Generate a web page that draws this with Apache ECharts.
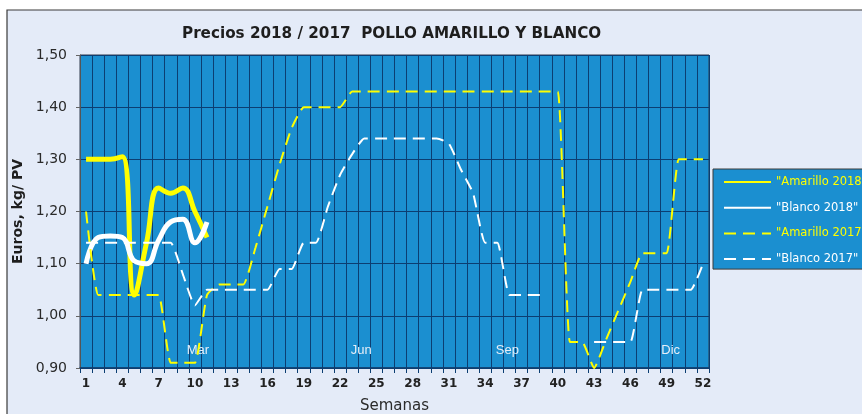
<!DOCTYPE html>
<html>
<head>
<meta charset="utf-8">
<script src="https://cdn.jsdelivr.net/npm/echarts@6/dist/echarts.min.js"></script>
<style>
  html, body { margin: 0; padding: 0; background: #ffffff; }
  #chart { width: 862px; height: 414px; }
</style>
</head>
<body>
<div id="chart"></div>
<script>
// semanas 1..52
const weeks = Array.from({ length: 52 }, (_, i) => String(i + 1));

// 2018, solo hasta la semana 11
const amarillo2018 = [1.30, 1.30, 1.30, 1.305, 1.04, 1.14, 1.245, 1.235, 1.245, 1.20, 1.15];
const blanco2018 = [1.10, 1.15, 1.153, 1.15, 1.105, 1.10, 1.145, 1.18, 1.185, 1.14, 1.18];

const amarillo2017 = [
  1.20, 1.04, 1.04, 1.04, 1.04, 1.04, 1.04, 0.91, 0.91, 0.91,
  1.04, 1.06, 1.06, 1.06, 1.13, 1.21, 1.29, 1.36, 1.40, 1.40,
  1.40, 1.40, 1.43, 1.43, 1.43, 1.43, 1.43, 1.43, 1.43, 1.43,
  1.43, 1.43, 1.43, 1.43, 1.43, 1.43, 1.43, 1.43, 1.43, 1.43,
  0.95, 0.95, 0.90, 0.955, 1.01, 1.065, 1.12, 1.12, 1.12, 1.30,
  1.30, 1.30
];
const blanco2017 = [
  1.14, 1.14, 1.14, 1.14, 1.14, 1.14, 1.14, 1.14, 1.08, 1.02,
  1.05, 1.05, 1.05, 1.05, 1.05, 1.05, 1.09, 1.09, 1.14, 1.14,
  1.21, 1.27, 1.31, 1.34, 1.34, 1.34, 1.34, 1.34, 1.34, 1.34,
  1.33, 1.28, 1.235, 1.14, 1.14, 1.04, 1.04, 1.04, 1.04, null,
  null, null, 0.95, 0.95, 0.95, 0.95, 1.05, 1.05, 1.05, 1.05,
  1.05, 1.10
];

// etiquetas de mes dentro del grafico
const monthNames = ['Mar', 'Jun', 'Sep', 'Dic'];
const monthWeeks = ['10', '24', '36', '49'];
const monthOffsets = [3, -3, -2, 4];

const NAVY = '#0c3e72';
const FONT = 'DejaVu Sans, Verdana, sans-serif';

let chart = echarts.init(document.getElementById('chart'), null, { renderer: 'canvas' });

let option = {
  animation: false,
  backgroundColor: '#ffffff',
  graphic: [{
    type: 'rect',
    z: -10,
    shape: { x: 7, y: 10, width: 900, height: 450 },
    style: { fill: '#e4ebf8', stroke: '#3a3a3a', lineWidth: 1.2 }
  }],
  title: {
    text: 'Precios 2018 / 2017  POLLO AMARILLO Y BLANCO',
    left: 177,
    top: 22,
    textStyle: { fontFamily: FONT, fontSize: 15.2, fontWeight: 'bold', color: '#1e1e1e' }
  },
  legend: {
    orient: 'vertical',
    left: 713,
    top: 169,
    padding: [7, 60, 4, 10],
    backgroundColor: '#1b8fd0',
    borderColor: '#3a3a3a',
    borderWidth: 1,
    itemWidth: 47,
    itemHeight: 14,
    itemGap: 13.7,
    // solo la linea, sin simbolo
    itemStyle: { color: 'transparent', borderColor: 'transparent', borderWidth: 0 },
    textStyle: { fontFamily: FONT, fontSize: 11.5 },
    data: [
      { name: '"Amarillo 2018"', textStyle: { color: '#ffff00' } },
      { name: '"Blanco 2018"', textStyle: { color: '#ffffff' } },
      { name: '"Amarillo 2017"', textStyle: { color: '#ffff00' } },
      { name: '"Blanco 2017"', textStyle: { color: '#ffffff' } }
    ]
  },
  grid: {
    left: 80,
    right: 153,
    top: 55,
    bottom: 46,
    outerBoundsMode: 'none',
    show: true,
    backgroundColor: '#1b8fd0',
    borderColor: '#2e3a4e',
    borderWidth: 1
  },
  xAxis: {
    type: 'category',
    data: weeks,
    boundaryGap: true,
    name: 'Semanas',
    nameLocation: 'middle',
    nameGap: 31,
    nameTextStyle: { fontFamily: FONT, fontSize: 15, color: '#2a2a2a' },
    axisLine: { lineStyle: { color: NAVY, width: 1.5 } },
    axisTick: { show: true, interval: 0, alignWithLabel: false, length: 5, lineStyle: { color: NAVY } },
    axisLabel: {
      interval: function(i) { return i % 3 === 0; },
      margin: 10,
      fontFamily: FONT,
      fontSize: 12,
      fontWeight: 'bold',
      color: '#222222'
    },
    splitLine: { show: true, interval: 0, lineStyle: { color: NAVY, width: 1 } }
  },
  yAxis: {
    type: 'value',
    min: 0.9,
    max: 1.5,
    interval: 0.1,
    name: 'Euros, kg/ PV',
    nameLocation: 'middle',
    nameGap: 55,
    nameRotate: 90,
    nameTextStyle: { fontFamily: FONT, fontSize: 14, fontWeight: 'bold', color: '#1e1e1e' },
    axisLine: { show: true, lineStyle: { color: '#555555' } },
    axisTick: { show: true, length: 4, lineStyle: { color: '#666666' } },
    axisLabel: {
      margin: 13,
      fontFamily: FONT,
      fontSize: 14,
      color: '#2a2a2a',
      formatter: function(v) { return v.toFixed(2).replace('.', ','); }
    },
    splitLine: { show: true, lineStyle: { color: NAVY, width: 1 } }
  },
  series: [{
    name: '"Amarillo 2018"',
    type: 'line',
    data: amarillo2018,
    symbol: 'none',
    smooth: 0.45,
    color: '#ffff00',
    lineStyle: { color: '#ffff00', width: 5 },
    z: 3
  }, {
    name: '"Blanco 2018"',
    type: 'line',
    data: blanco2018,
    symbol: 'none',
    smooth: 0.45,
    color: '#ffffff',
    lineStyle: { color: '#ffffff', width: 5 },
    z: 4
  }, {
    name: '"Amarillo 2017"',
    type: 'line',
    data: amarillo2017,
    symbol: 'none',
    smooth: 0.15,
    color: '#ffff00',
    lineStyle: { color: '#ffff00', width: 2, type: [12, 7] },
    z: 5,
    markPoint: {
      symbol: 'circle',
      symbolSize: 0,
      silent: true,
      label: {
        show: true,
        position: 'inside',
        fontFamily: 'Liberation Sans, Arial, sans-serif',
        fontSize: 13,
        color: '#e6eef8',
        formatter: '{b}'
      },
      data: monthNames.map((m, i) => ({
        name: m,
        coord: [monthWeeks[i], 0.934],
        label: { offset: [monthOffsets[i], 0] }
      }))
    }
  }, {
    name: '"Blanco 2017"',
    type: 'line',
    data: blanco2017,
    symbol: 'none',
    smooth: 0.15,
    color: '#ffffff',
    lineStyle: { color: '#ffffff', width: 2, type: [12, 7] },
    z: 6
  }]
};

chart.setOption(option);
</script>
</body>
</html>
